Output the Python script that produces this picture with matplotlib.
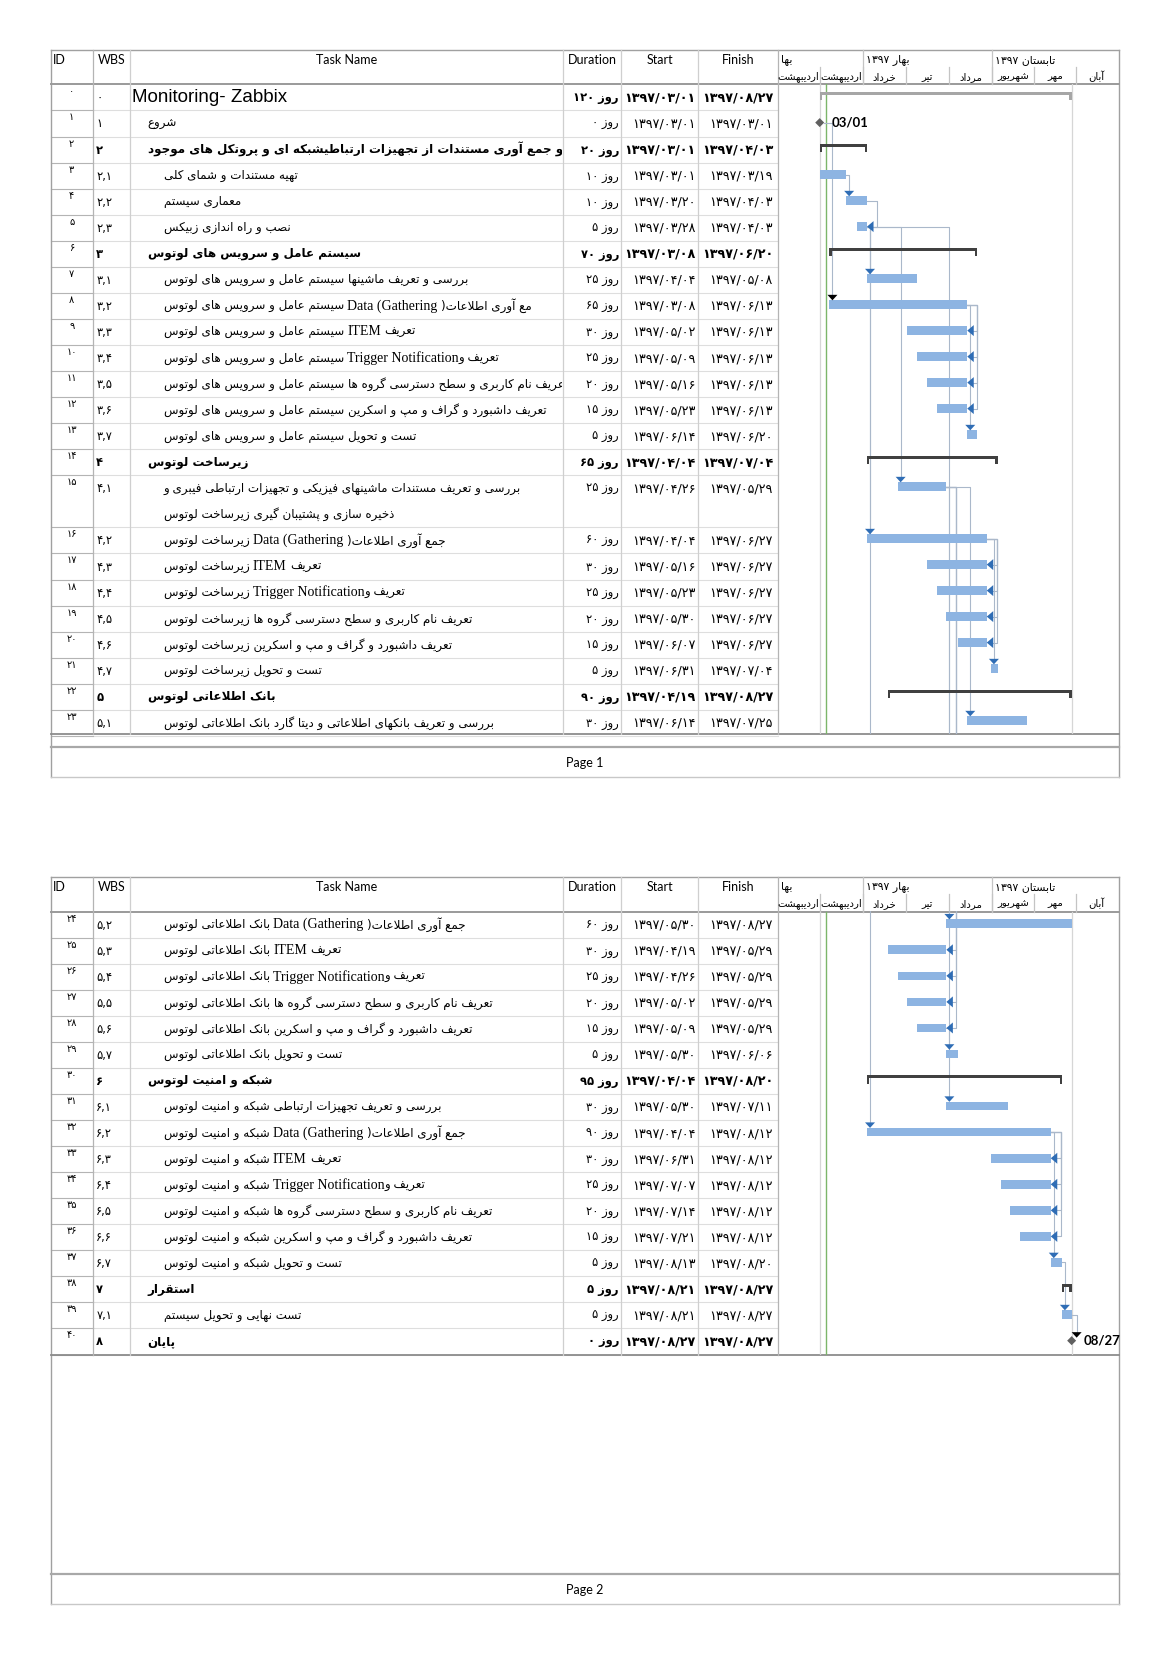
import re
import matplotlib
matplotlib.use('Agg')
import matplotlib.pyplot as plt
from matplotlib.patches import Rectangle, Polygon
from matplotlib.font_manager import FontProperties

# ---------------- data ----------------
ids = list(range(41))
wbs_codes = ['0', '1', '2', '2,1', '2,2', '2,3', '3', '3,1', '3,2', '3,3', '3,4', '3,5', '3,6', '3,7',
             '4', '4,1', '4,2', '4,3', '4,4', '4,5', '4,6', '4,7', '5', '5,1', '5,2', '5,3', '5,4',
             '5,5', '5,6', '5,7', '6', '6,1', '6,2', '6,3', '6,4', '6,5', '6,6', '6,7', '7', '7,1', '8']
task_names = [
    'Monitoring- Zabbix',
    'شروع',
    'و جمع آوری مستندات از تجهیزات ارتباطیشبکه ای و پروتکل های موجود',
    'تهیه مستندات و شمای کلی',
    'معماری سیستم',
    'نصب و راه اندازی زبیکس',
    'سیستم عامل و سرویس های لوتوس',
    'بررسی و تعریف ماشینها سیستم عامل و سرویس های لوتوس',
    'مع آوری اطلاعات) Data (Gathering سیستم عامل و سرویس های لوتوس',
    'تعریف ITEM سیستم عامل و سرویس های لوتوس',
    'تعریف وTrigger Notification سیستم عامل و سرویس های لوتوس',
    'عریف نام کاربری و سطح دسترسی گروه ها سیستم عامل و سرویس های لوتوس',
    'تعریف داشبورد و گراف و مپ و اسکرین سیستم عامل و سرویس های لوتوس',
    'تست و تحویل سیستم عامل و سرویس های لوتوس',
    'زیرساخت لوتوس',
    'بررسی و تعریف مستندات ماشینهای فیزیکی و تجهیزات ارتباطی فیبری و\nذخیره سازی و پشتیبان گیری زیرساخت لوتوس',
    'جمع آوری اطلاعات) Data (Gathering زیرساخت لوتوس',
    'تعریف ITEM زیرساخت لوتوس',
    'تعریف وTrigger Notification زیرساخت لوتوس',
    'تعریف نام کاربری و سطح دسترسی گروه ها زیرساخت لوتوس',
    'تعریف داشبورد و گراف و مپ و اسکرین زیرساخت لوتوس',
    'تست و تحویل زیرساخت لوتوس',
    'بانک اطلاعاتی لوتوس',
    'بررسی و تعریف بانکهای اطلاعاتی و دیتا گارد بانک اطلاعاتی لوتوس',
    'جمع آوری اطلاعات) Data (Gathering بانک اطلاعاتی لوتوس',
    'تعریف ITEM بانک اطلاعاتی لوتوس',
    'تعریف وTrigger Notification بانک اطلاعاتی لوتوس',
    'تعریف نام کاربری و سطح دسترسی گروه ها بانک اطلاعاتی لوتوس',
    'تعریف داشبورد و گراف و مپ و اسکرین بانک اطلاعاتی لوتوس',
    'تست و تحویل بانک اطلاعاتی لوتوس',
    'شبکه و امنیت لوتوس',
    'بررسی و تعریف تجهیزات ارتباطی شبکه و امنیت لوتوس',
    'جمع آوری اطلاعات) Data (Gathering شبکه و امنیت لوتوس',
    'تعریف ITEM شبکه و امنیت لوتوس',
    'تعریف وTrigger Notification شبکه و امنیت لوتوس',
    'تعریف نام کاربری و سطح دسترسی گروه ها شبکه و امنیت لوتوس',
    'تعریف داشبورد و گراف و مپ و اسکرین شبکه و امنیت لوتوس',
    'تست و تحویل شبکه و امنیت لوتوس',
    'استقرار',
    'تست نهایی و تحویل سیستم',
    'پایان',
]
durations = [120, 0, 20, 10, 10, 5, 70, 25, 65, 30, 25, 20, 15, 5, 65, 25, 60, 30, 25, 20, 15, 5, 90, 30,
             60, 30, 25, 20, 15, 5, 95, 30, 90, 30, 25, 20, 15, 5, 5, 5, 0]
starts = ['03/01', '03/01', '03/01', '03/01', '03/20', '03/28', '03/08', '04/04', '03/08', '05/02', '05/09',
          '05/16', '05/23', '06/14', '04/04', '04/26', '04/04', '05/16', '05/23', '05/30', '06/07', '06/31',
          '04/19', '06/14',
          '05/30', '04/19', '04/26', '05/02', '05/09', '05/30', '04/04', '05/30', '04/04', '06/31', '07/07',
          '07/14', '07/21', '08/13', '08/21', '08/21', '08/27']
finishes = ['08/27', '03/01', '04/03', '03/19', '04/03', '04/03', '06/20', '05/08', '06/13', '06/13', '06/13',
            '06/13', '06/13', '06/20', '07/04', '05/29', '06/27', '06/27', '06/27', '06/27', '06/27', '07/04',
            '08/27', '07/25',
            '08/27', '05/29', '05/29', '05/29', '05/29', '06/06', '08/20', '07/11', '08/12', '08/12', '08/12',
            '08/12', '08/12', '08/20', '08/27', '08/27', '08/27']
year = '1397'
project_row = 0
summary_rows = [2, 6, 14, 22, 30, 38]
level1_rows = [1, 2, 6, 14, 22, 30, 38, 40]
bold_rows = [0, 2, 6, 14, 22, 30, 38, 40]
milestone_at_finish = {1: False, 40: True}
milestone_labels = {1: '03/01', 40: '08/27'}
status_date = '03/05'
links = [(1, 8, 'FS'), (3, 4, 'FS'), (4, 5, 'FF'), (5, 7, 'FS'), (5, 16, 'FS'), (5, 15, 'FS'),
         (5, 32, 'FS'), (5, 31, 'FS'),
         (8, 9, 'FF'), (8, 10, 'FF'), (8, 11, 'FF'), (8, 12, 'FF'), (8, 13, 'FS'),
         (15, 23, 'FS'), (15, 24, 'FS'), (15, 25, 'FF'), (15, 26, 'FF'), (15, 27, 'FF'), (15, 28, 'FF'),
         (16, 17, 'FF'), (16, 18, 'FF'), (16, 19, 'FF'), (16, 20, 'FF'), (16, 21, 'FS'),
         (28, 29, 'FS'),
         (32, 33, 'FF'), (32, 34, 'FF'), (32, 35, 'FF'), (32, 36, 'FF'), (32, 37, 'FS'),
         (37, 39, 'FS'), (39, 40, 'FS')]
black_arrow_rows = [8, 40]
headers = ['ID', 'WBS', 'Task Name', 'Duration', 'Start', 'Finish']
tier1_labels = ['بها', 'بهار', 'تابستان']
tier1_bounds = [(-31, 31), (31, 124), (124, 214)]
month_labels = ['اردیبهشت', 'اردیبهشت', 'خرداد', 'تیر', 'مرداد', 'شهریور', 'مهر', 'آبان']
month_lengths = {1: 31, 2: 31, 3: 31, 4: 31, 5: 31, 6: 31, 7: 30, 8: 30, 9: 30, 10: 30, 11: 30, 12: 29}
month_starts_rel = [-31, 0, 31, 62, 93, 124, 154, 184, 214]
day_word = 'روز'

# ---------------- Persian shaping ----------------
_F = {
    'آ': ('\uFE81', '\uFE82', None, None), 'ا': ('\uFE8D', '\uFE8E', None, None),
    'ئ': ('\uFE89', '\uFE8A', '\uFE8B', '\uFE8C'),
    'ب': ('\uFE8F', '\uFE90', '\uFE91', '\uFE92'), 'پ': ('\uFB56', '\uFB57', '\uFB58', '\uFB59'),
    'ت': ('\uFE95', '\uFE96', '\uFE97', '\uFE98'), 'ث': ('\uFE99', '\uFE9A', '\uFE9B', '\uFE9C'),
    'ج': ('\uFE9D', '\uFE9E', '\uFE9F', '\uFEA0'), 'چ': ('\uFB7A', '\uFB7B', '\uFB7C', '\uFB7D'),
    'ح': ('\uFEA1', '\uFEA2', '\uFEA3', '\uFEA4'), 'خ': ('\uFEA5', '\uFEA6', '\uFEA7', '\uFEA8'),
    'د': ('\uFEA9', '\uFEAA', None, None), 'ذ': ('\uFEAB', '\uFEAC', None, None),
    'ر': ('\uFEAD', '\uFEAE', None, None), 'ز': ('\uFEAF', '\uFEB0', None, None),
    'ژ': ('\uFB8A', '\uFB8B', None, None),
    'س': ('\uFEB1', '\uFEB2', '\uFEB3', '\uFEB4'), 'ش': ('\uFEB5', '\uFEB6', '\uFEB7', '\uFEB8'),
    'ص': ('\uFEB9', '\uFEBA', '\uFEBB', '\uFEBC'), 'ض': ('\uFEBD', '\uFEBE', '\uFEBF', '\uFEC0'),
    'ط': ('\uFEC1', '\uFEC2', '\uFEC3', '\uFEC4'), 'ظ': ('\uFEC5', '\uFEC6', '\uFEC7', '\uFEC8'),
    'ع': ('\uFEC9', '\uFECA', '\uFECB', '\uFECC'), 'غ': ('\uFECD', '\uFECE', '\uFECF', '\uFED0'),
    'ف': ('\uFED1', '\uFED2', '\uFED3', '\uFED4'), 'ق': ('\uFED5', '\uFED6', '\uFED7', '\uFED8'),
    'ک': ('\uFB8E', '\uFB8F', '\uFB90', '\uFB91'), 'گ': ('\uFB92', '\uFB93', '\uFB94', '\uFB95'),
    'ل': ('\uFEDD', '\uFEDE', '\uFEDF', '\uFEE0'), 'م': ('\uFEE1', '\uFEE2', '\uFEE3', '\uFEE4'),
    'ن': ('\uFEE5', '\uFEE6', '\uFEE7', '\uFEE8'), 'ه': ('\uFEE9', '\uFEEA', '\uFEEB', '\uFEEC'),
    'و': ('\uFEED', '\uFEEE', None, None), 'ی': ('\uFBFC', '\uFBFD', '\uFBFE', '\uFBFF'),
}
_LA = {'ا': ('\uFEFB', '\uFEFC'), 'آ': ('\uFEF5', '\uFEF6')}


def _dual(c):
    return c in _F and _F[c][2] is not None


def _joins(c):
    return c in _F


def shape(s):
    out, i, n = [], 0, len(s)
    while i < n:
        c = s[i]
        if c not in _F:
            out.append(c)
            i += 1
            continue
        prev = s[i - 1] if i > 0 else ''
        jp = _dual(prev)
        if c == 'ل' and i + 1 < n and s[i + 1] in _LA:
            out.append(_LA[s[i + 1]][1 if jp else 0])
            i += 2
            continue
        nxt = s[i + 1] if i + 1 < n else ''
        jn = _dual(c) and _joins(nxt)
        iso, fin, ini, med = _F[c]
        out.append(med if (jp and jn) else fin if jp else ini if jn else iso)
        i += 1
    return ''.join(out)


def rtl(s):
    return shape(s)[::-1]


FA_DIG = str.maketrans('0123456789', '۰۱۲۳۴۵۶۷۸۹')


def fa(s):
    return str(s).translate(FA_DIG)


def day_of(md):
    m, d = int(md[:2]), int(md[3:])
    return sum(month_lengths[k] for k in range(3, m)) + d - 1


# ---------------- figure / layout ----------------
W, H, DPI = 1170, 1654, 100
fig = plt.figure(figsize=(W / DPI, H / DPI), dpi=DPI)
fig.patch.set_facecolor('white')
P = fig.add_axes([0, 0, 1, 1])
P.set_xlim(0, W)
P.set_ylim(H, 0)
P.axis('off')
R = fig.canvas.get_renderer()

COLS = [50.6, 92.8, 129.8, 563.4, 621.4, 698.4, 777.5]
XR = 1118.5
ROW_H = 26.06
X_DAY0 = 819.7
PX_DAY = 1.392
pages = [dict(h0=49.6, h1=84.4, tb=734.4, ft=747.0, pb=776.5, label='Page 1', u0=0, u1=25),
         dict(h0=876.7, h1=911.5, tb=1354.5, ft=1574.0, pb=1603.6, label='Page 2', u0=25, u1=42)]

unit_top = []
u = 0
for i in ids:
    unit_top.append(u)
    u += 2 if i == 15 else 1
row_page = [0 if i <= 23 else 1 for i in ids]


def ypx(unit, page):
    pg = pages[page]
    return pg['h1'] + (unit - pg['u0']) * ROW_H


def xpx(d):
    return X_DAY0 + d * PX_DAY


FA = 'DejaVu Sans'
fp_name = FontProperties(family=FA, size=8.6)
fp_name_b = FontProperties(family=FA, size=8.6, weight='bold')
fp_lat = FontProperties(family='Liberation Serif', size=10)
fp_lat_b = FontProperties(family='Liberation Serif', size=10, weight='bold')
fp_num = FontProperties(family=FA, size=8.3)
fp_num_b = FontProperties(family=FA, size=8.3, weight='bold')
fp_date = FontProperties(family=FA, size=9.2)
fp_date_b = FontProperties(family=FA, size=9.2, weight='bold')
fp_id = FontProperties(family=FA, size=7)
fp_ui = FontProperties(family='Lato', size=9)
fp_scale = FontProperties(family=FA, size=7.3)
fp_scale1 = FontProperties(family=FA, size=7.8)

GRID_LIGHT = '#dedede'
GRID_MID = '#b4b4b4'
FRAME = '#a0a0a0'


def clip_rect(x0, y0, x1, y1):
    return Rectangle((x0, y0), x1 - x0, y1 - y0, transform=P.transData, fill=False, visible=False)


def put(x, y, s, fp, ha='left', va='center', clip=None, color='black'):
    t = P.text(x, y, s, fontproperties=fp, ha=ha, va=va, color=color)
    if clip is not None:
        t.set_clip_path(clip)
        t.set_clip_on(True)
    return t


LAT_RE = re.compile(r'([A-Za-z][A-Za-z ()]*[A-Za-z])')


def draw_name(x, y, s, bold, clip):
    fpf = fp_name_b if bold else fp_name
    fpl = fp_lat_b if bold else fp_lat
    parts = LAT_RE.split(s)
    runs = [(k % 2 == 1, p) for k, p in enumerate(parts) if p]
    runs.reverse()
    space_w = 3.6
    cx = x
    pending = 0
    first = True
    for is_lat, p in runs:
        v = p if is_lat else rtl(p)
        lead = len(v) - len(v.lstrip(' '))
        trail = len(v) - len(v.rstrip(' '))
        core = v.strip(' ')
        pending += lead
        if core:
            if not first:
                cx += pending * space_w
            t = put(cx, y, core, fpl if is_lat else fpf, clip=clip)
            cx += t.get_window_extent(R).width
            pending = 0
            first = False
        pending += trail


# ---------------- table ----------------
for pi, pg in enumerate(pages):
    h0, h1, tb, ft, pb = pg['h0'], pg['h1'], pg['tb'], pg['ft'], pg['pb']
    # outer frame
    P.plot([COLS[0], XR], [h0, h0], color=FRAME, lw=1.0)
    P.plot([COLS[0], COLS[0]], [h0, pb], color=FRAME, lw=1.0)
    P.plot([XR, XR], [h0, pb], color=FRAME, lw=1.0)
    P.plot([COLS[0], XR], [pb, pb], color='#c8c8c8', lw=1.0)
    P.plot([COLS[0], XR], [h1, h1], color='#9a9a9a', lw=1.4)
    P.plot([COLS[0], XR], [tb, tb], color='#8c8c8c', lw=1.3)
    P.plot([COLS[0], XR], [ft, ft], color='#a8a8a8', lw=1.6)
    # column lines
    for k, xc in enumerate(COLS[1:]):
        col = GRID_MID if k in (0, 5) else '#cfcfcf'
        P.plot([xc, xc], [h0, tb], color=col, lw=0.9)
    # header labels
    for k, hname in enumerate(headers):
        if k == 0:
            put(COLS[0] + 2, h0 + 10, hname, fp_ui)
        else:
            put((COLS[k] + COLS[k + 1]) / 2, h0 + 10, hname, fp_ui, ha='center')
    put((COLS[0] + XR) / 2, (ft + pb) / 2 + 1, pg['label'], fp_ui, ha='center')

    # rows
    rows = [i for i in ids if row_page[i] == pi]
    name_clip = clip_rect(COLS[2] + 1, h1, COLS[3] - 1, tb)
    for i in rows:
        ut = unit_top[i]
        nunits = 2 if i == 15 else 1
        ytop = ypx(ut, pi)
        ybot = ypx(ut + nunits, pi)
        yc = ytop + ROW_H / 2
        # row separator
        P.plot([COLS[1], COLS[6]], [ybot, ybot], color=GRID_LIGHT, lw=0.8, zorder=1)
        P.plot([COLS[0], COLS[1]], [ybot, ybot], color=GRID_MID, lw=0.8, zorder=1)
        bold = i in bold_rows
        put((COLS[0] + COLS[1]) / 2, ytop + 2.0, fa(ids[i]), fp_id, ha='center', va='top')
        put(COLS[1] + 3.5, yc + 0.5, fa(wbs_codes[i]), fp_num_b if (bold and i != 0) else fp_num)
        if i == 0:
            put(132, yc, task_names[i], FontProperties(family='Liberation Sans', size=13.5), clip=name_clip)
        else:
            x0 = 147.7 if i in level1_rows else 163.5
            lines = task_names[i].split('\n')
            for li, line in enumerate(lines):
                draw_name(x0, yc + li * ROW_H, line, bold, name_clip)
        fpn = fp_num_b if bold else fp_num
        fpd = fp_date_b if bold else fp_date
        put(COLS[4] - 2.5, yc + 0.5, fa(durations[i]) + ' ' + rtl(day_word), fpn, ha='right')
        put(COLS[5] - 2.5, yc + 0.5, fa(year + '/' + starts[i]), fpd, ha='right')
        put(COLS[6] - 4.5, yc + 0.5, fa(year + '/' + finishes[i]), fpd, ha='right')

    # gantt timescale header
    tmid = h0 + 17.5
    for (a, b), lab in zip(tier1_bounds, tier1_labels):
        xa = max(xpx(a), COLS[6])
        if a > -31:
            P.plot([xpx(a), xpx(a)], [h0, h1], color='#c4c4c4', lw=0.9)
        if lab == 'بها':
            s = rtl(lab)
        else:
            s = fa(year) + ' ' + rtl(lab)
        put(xa + 3, h0 + 10, s, fp_scale1, clip=clip_rect(xa, h0, min(xpx(b), XR), tmid))
    for k, lab in enumerate(month_labels):
        a, b = month_starts_rel[k], month_starts_rel[k + 1]
        xa, xb = max(xpx(a), COLS[6]), min(xpx(b), XR)
        if a > -31:
            P.plot([xpx(a), xpx(a)], [tmid, h1], color='#c4c4c4', lw=0.9)
        put((xpx(a) + xpx(b)) / 2, h0 + 27, rtl(lab), fp_scale, ha='center',
            clip=clip_rect(xa, tmid, xb, h1))

# ---------------- gantt ----------------
GX0 = (COLS[6] - X_DAY0) / PX_DAY
GX1 = (XR - X_DAY0) / PX_DAY
gaxes = []
for pi, pg in enumerate(pages):
    y0, y1 = pg['h1'], pg['tb']
    ax = fig.add_axes([COLS[6] / W, 1 - y1 / H, (XR - COLS[6]) / W, (y1 - y0) / H])
    ax.set_facecolor('none')
    ax.axis('off')
    ax.set_xlim(GX0, GX1)
    ax.set_ylim(pg['u1'], pg['u0'])
    gaxes.append(ax)


def dx(p):
    return p / PX_DAY


def dy(p):
    return p / ROW_H


BAR_H = dy(8.6)
TASK_C = '#8db4e2'
SUM_C = '#404040'
PROJ_C = '#a6a6a6'
ARROW_C = '#2f6db5'
LINK_C = '#aab8ca'

s_day = [day_of(s) for s in starts]
f_day = [day_of(f) + 1 for f in finishes]


def yc_u(i):
    return unit_top[i] + 0.5 - dy(0.8)


def ms_x(i):
    return f_day[i] if milestone_at_finish[i] else s_day[i]


for pi, ax in enumerate(gaxes):
    # project start / finish and status date lines
    ax.axvline(s_day[project_row], color='#d6d6d6', lw=0.9, zorder=1)
    ax.axvline(f_day[project_row], color='#d6d6d6', lw=0.9, zorder=1)
    ax.axvline(day_of(status_date) + 0.5, color='#7cb66a', lw=1.0, zorder=1)

    # links
    for p, sc, typ in links:
        if durations[p] == 0:
            x0 = ms_x(p) + dx(4.5)
        else:
            x0 = f_day[p]
        y0 = yc_u(p)
        ys = yc_u(sc)
        if typ == 'FF':
            xv = x0 + dx(10)
            ax.plot([x0, xv, xv, f_day[sc] + dx(6)], [y0, y0, ys, ys], color=LINK_C, lw=0.8, zorder=2)
        else:
            xs = (ms_x(sc) + dx(5)) if durations[sc] == 0 else s_day[sc] + dx(3)
            yt = ys - BAR_H / 2 - dy(5)
            if durations[sc] == 0:
                yt = ys - dy(8)
            if xs >= x0 + dx(2):
                ax.plot([x0, xs, xs], [y0, y0, yt], color=LINK_C, lw=0.8, zorder=2)
            else:
                xm = x0 + dx(6)
                ym = unit_top[sc] + dy(1)
                ax.plot([x0, xm, xm, xs, xs], [y0, y0, ym, ym, yt], color=LINK_C, lw=0.8, zorder=2)

    # bars
    for i in ids:
        y = yc_u(i)
        s, f = s_day[i], f_day[i]
        if i == project_row or i in summary_rows:
            c = PROJ_C if i == project_row else SUM_C
            th = dy(3.6) if i == project_row else dy(3.0)
            ytl = y - dy(5)
            ax.add_patch(Rectangle((s, ytl), f - s, th, color=c, lw=0, zorder=3))
            ax.add_patch(Rectangle((s, ytl), dx(2.4), dy(8.5), color=c, lw=0, zorder=3))
            ax.add_patch(Rectangle((f - dx(2.4), ytl), dx(2.4), dy(8.5), color=c, lw=0, zorder=3))
        elif durations[i] == 0:
            x = ms_x(i)
            ax.add_patch(Polygon([(x - dx(4.5), y), (x, y - dy(4.5)), (x + dx(4.5), y), (x, y + dy(4.5))],
                                 closed=True, color='#606060', lw=0, zorder=4))
            if row_page[i] == pi:
                ax.text(x + dx(12), y, milestone_labels[i], fontproperties=FontProperties(
                    family='Lato', size=9.5, weight='bold'), ha='left', va='center', zorder=5,
                    clip_on=False)
        else:
            ax.add_patch(Rectangle((s, y - BAR_H / 2), f - s, BAR_H, color=TASK_C, lw=0, zorder=3))

    # arrows
    for p, sc, typ in links:
        y = yc_u(sc)
        col = 'black' if sc in black_arrow_rows else ARROW_C
        if typ == 'FF':
            xe = f_day[sc]
            tri = [(xe, y), (xe + dx(6.5), y - dy(5.5)), (xe + dx(6.5), y + dy(5.5))]
        else:
            if durations[sc] == 0:
                xa = ms_x(sc) + dx(5)
                yt = y - dy(3)
            else:
                xa = s_day[sc] + dx(3)
                yt = y - BAR_H / 2
            tri = [(xa - dx(5), yt - dy(5.5)), (xa + dx(5), yt - dy(5.5)), (xa, yt)]
        ax.add_patch(Polygon(tri, closed=True, color=col, lw=0, zorder=5))

fig.savefig('out.png', dpi=DPI, facecolor='white')
